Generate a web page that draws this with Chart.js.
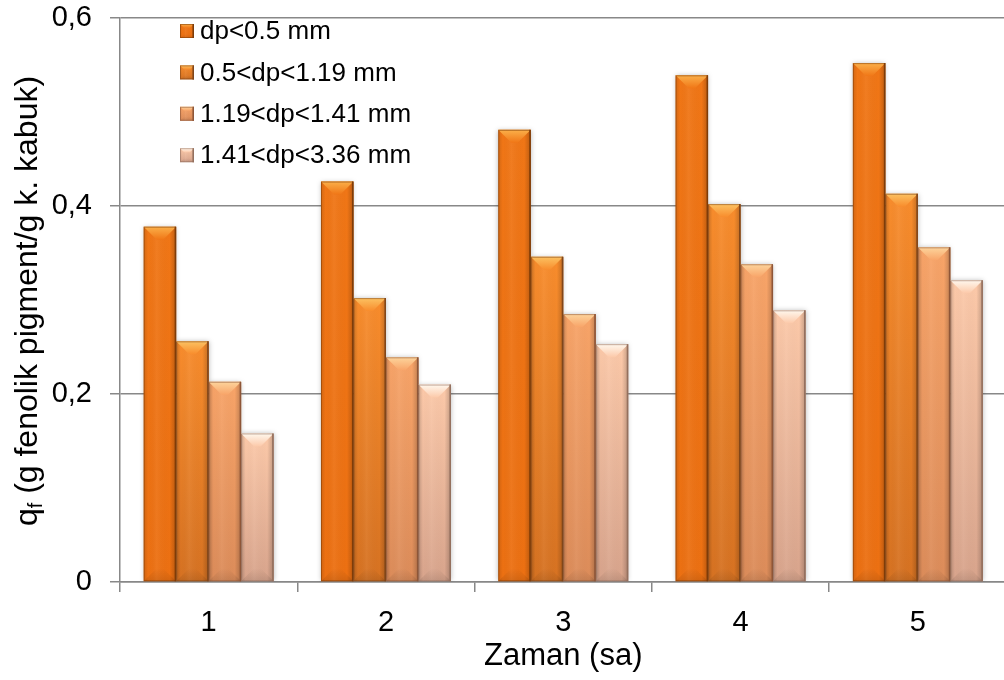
<!DOCTYPE html>
<html>
<head>
<meta charset="utf-8">
<script src="https://cdn.jsdelivr.net/npm/chart.js@4"></script>
<style>
  html, body { margin: 0; padding: 0; background: #fff; overflow: hidden; }
  #wrap { position: absolute; left: 0; top: 0; width: 1007px; height: 680px; }
</style>
</head>
<body>
<div id="wrap"><canvas id="qfChart" width="1007" height="680"></canvas></div>
<script>
// Data
const categories = ["1", "2", "3", "4", "5"];
const seriesLabels = ["dp<0.5 mm", "0.5<dp<1.19 mm", "1.19<dp<1.41 mm", "1.41<dp<3.36 mm"];
const dp05 = [0.378, 0.426, 0.481, 0.539, 0.552];
const dp119 = [0.256, 0.302, 0.346, 0.402, 0.413];
const dp141 = [0.213, 0.239, 0.285, 0.338, 0.356];
const dp336 = [0.158, 0.210, 0.253, 0.289, 0.321];
const yTickLabels = ["0", "0,2", "0,4", "0,6"];
const yTitle = { main: "q", sub: "f", rest: " (g fenolik pigment/g k. kabuk)" };
const xTitle = "Zaman (sa)";

// Bar colours: top, bottom, bevel highlight, edge
const shades = [
  { top: "#F07616", bottom: "#EC7012", hi: "#FBB04A", edge: "#7E3C08" },
  { top: "#F88C2C", bottom: "#D67222", hi: "#FCC262", edge: "#80461A" },
  { top: "#F8A468", bottom: "#DC8C5A", hi: "#FDD49C", edge: "#8E5638" },
  { top: "#FCC9A9", bottom: "#D8A48C", hi: "#FFF8EE", edge: "#94705E" }
];

const FONT = "'Liberation Sans', Arial, sans-serif";
Chart.defaults.font.family = FONT;
Chart.defaults.color = "#000";

function barFill(s) {
  return ctx => {
    const chart = ctx.chart;
    if (!chart.chartArea || ctx.raw == null) return s.top;
    const y = chart.scales.y;
    const g = chart.ctx.createLinearGradient(0, y.getPixelForValue(ctx.raw), 0, y.getPixelForValue(0));
    g.addColorStop(0, s.top);
    g.addColorStop(1, s.bottom);
    return g;
  };
}

// soft glow round each dataset's bars
const barShadow = {
  id: "barShadow",
  beforeDatasetDraw(chart) {
    const c = chart.ctx;
    c.save();
    c.shadowColor = "rgba(0,0,0,0.28)";
    c.shadowBlur = 5;
  },
  afterDatasetDraw(chart) {
    chart.ctx.restore();
  }
};

function drawBevel(c, l, t, w, h, s, b) {
  const r = l + w, bt = t + h;
  // side shading
  let g = c.createLinearGradient(l, 0, r, 0);
  g.addColorStop(0, "rgba(0,0,0,0.12)");
  g.addColorStop(0.14, "rgba(0,0,0,0)");
  g.addColorStop(0.4, "rgba(255,255,255,0.05)");
  g.addColorStop(0.8, "rgba(0,0,0,0)");
  g.addColorStop(1, "rgba(0,0,0,0.22)");
  c.fillStyle = g;
  c.fillRect(l, t, w, h);
  // top bevel
  const tb = Math.min(b, h / 2);
  g = c.createLinearGradient(0, t, 0, t + tb);
  g.addColorStop(0, s.hi);
  g.addColorStop(1, s.top);
  c.fillStyle = g;
  c.beginPath();
  c.moveTo(l, t);
  c.lineTo(r, t);
  c.lineTo(r - tb, t + tb);
  c.lineTo(l + tb, t + tb);
  c.closePath();
  c.fill();
  // bottom bevel
  g = c.createLinearGradient(0, bt - tb, 0, bt);
  g.addColorStop(0, "rgba(0,0,0,0)");
  g.addColorStop(1, "rgba(0,0,0,0.10)");
  c.fillStyle = g;
  c.beginPath();
  c.moveTo(l, bt);
  c.lineTo(r, bt);
  c.lineTo(r - tb, bt - tb);
  c.lineTo(l + tb, bt - tb);
  c.closePath();
  c.fill();
  // edges
  c.lineWidth = 1;
  c.strokeStyle = s.edge;
  c.globalAlpha = 0.55;
  c.strokeRect(l + 0.5, t + 0.5, w - 1, h - 1);
  c.globalAlpha = 1;
  c.beginPath();
  c.moveTo(r - 0.75, t);
  c.lineTo(r - 0.75, bt);
  c.lineWidth = 1.5;
  c.stroke();
}

const bevel = {
  id: "bevel",
  afterDatasetsDraw(chart) {
    const c = chart.ctx;
    c.save();
    chart.data.datasets.forEach((ds, i) => {
      chart.getDatasetMeta(i).data.forEach(bar => {
        const p = bar.getProps(["x", "y", "base", "width"], true);
        drawBevel(c, p.x - p.width / 2, p.y, p.width, p.base - p.y, shades[i], 13);
      });
    });
    c.restore();
  }
};

// legend inside the plot, top left
const innerLegend = {
  id: "innerLegend",
  afterDraw(chart) {
    const c = chart.ctx;
    c.save();
    c.font = "26px " + FONT;
    c.textBaseline = "middle";
    c.fillStyle = "#000";
    chart.data.datasets.forEach((ds, i) => {
      const y = 31 + i * 41.4;
      const s = shades[i];
      const g = c.createLinearGradient(0, y - 7, 0, y + 7);
      g.addColorStop(0, s.top);
      g.addColorStop(1, s.bottom);
      c.fillStyle = g;
      c.fillRect(180, y - 7, 14, 14);
      drawBevel(c, 180, y - 7, 14, 14, s, 4);
      c.fillStyle = "#000";
      c.fillText(ds.label, 200, y + 1);
    });
    c.restore();
  }
};

// rotated y title with subscript
const yAxisTitle = {
  id: "yAxisTitle",
  afterDraw(chart) {
    const c = chart.ctx;
    const big = "32px " + FONT, small = "20px " + FONT;
    c.save();
    c.font = big;
    const w1 = c.measureText(yTitle.main).width;
    const w3 = c.measureText(yTitle.rest).width;
    c.font = small;
    const w2 = c.measureText(yTitle.sub).width;
    const total = w1 + w2 + w3;
    c.translate(27, 301);
    c.rotate(-Math.PI / 2);
    c.fillStyle = "#000";
    c.textBaseline = "alphabetic";
    let x = -total / 2;
    c.font = big;
    c.fillText(yTitle.main, x, 10);
    x += w1;
    c.font = small;
    c.fillText(yTitle.sub, x, 15);
    x += w2;
    c.font = big;
    c.fillText(yTitle.rest, x, 10);
    c.restore();
  }
};

const datasets = [dp05, dp119, dp141, dp336].map((vals, i) => ({
  label: seriesLabels[i],
  data: vals,
  backgroundColor: barFill(shades[i]),
  borderWidth: 0,
  categoryPercentage: 0.733,
  barPercentage: 1
}));

new Chart(document.getElementById("qfChart"), {
  type: "bar",
  data: { labels: categories, datasets },
  plugins: [barShadow, bevel, innerLegend, yAxisTitle],
  options: {
    responsive: false,
    animation: false,
    layout: { padding: { top: 18, right: 0.5, left: 0, bottom: 0 } },
    plugins: { legend: { display: false }, tooltip: { enabled: false } },
    scales: {
      x: {
        grid: { offset: true, drawOnChartArea: false, color: "#888", lineWidth: 1.5, tickLength: 10 },
        border: { color: "#888", width: 1.5 },
        ticks: { font: { size: 29 }, padding: 14, color: "#000" },
        title: { display: true, text: xTitle, font: { size: 31 }, color: "#000", padding: { top: 0, bottom: 5 } },
        afterFit: s => { s.height = 98; }
      },
      y: {
        min: 0,
        max: 0.6,
        ticks: {
          stepSize: 0.2,
          font: { size: 29 },
          padding: 18,
          color: "#000",
          callback: (v, i) => yTickLabels[i]
        },
        grid: { color: "#888", lineWidth: 1.5, tickLength: 10 },
        border: { color: "#888", width: 1.5 },
        afterFit: s => { s.width = 120; s.paddingTop = 0; s.paddingBottom = 0; }
      }
    }
  }
});
</script>
</body>
</html>
